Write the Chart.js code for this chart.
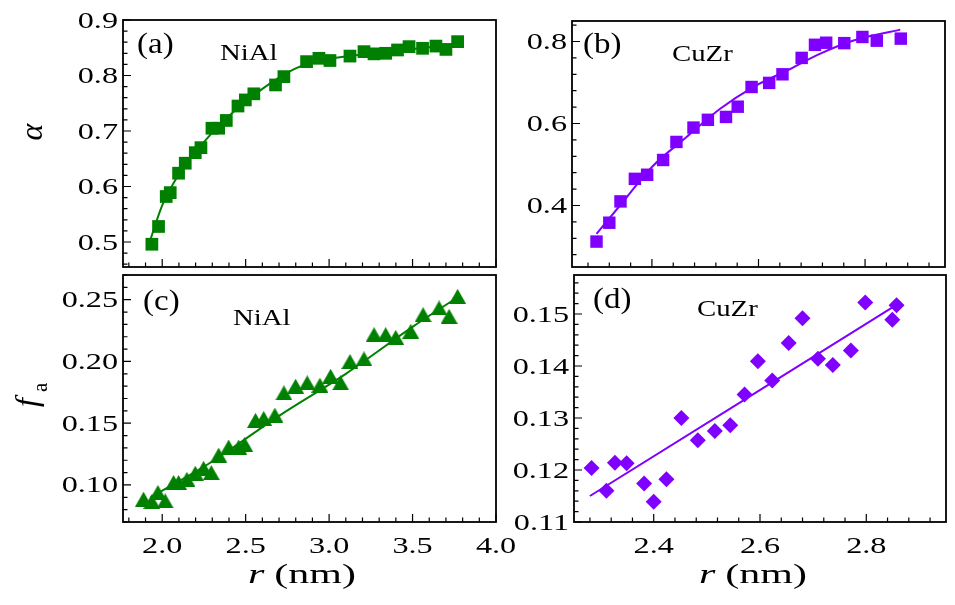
<!DOCTYPE html>
<html><head><meta charset="utf-8">
<script src="https://cdn.jsdelivr.net/npm/chart.js@4.4.1/dist/chart.umd.min.js"></script>
<style>
html,body{margin:0;padding:0;background:#fff;}
#wrap{position:relative;width:955px;height:605px;overflow:hidden;}
#wrap canvas{position:absolute;left:0;top:0;}
</style></head><body>
<div id="wrap">
<canvas id="ca" width="955" height="605"></canvas>
<canvas id="cb" width="955" height="605"></canvas>
<canvas id="cc" width="955" height="605"></canvas>
<canvas id="cd" width="955" height="605"></canvas>
</div>
<script>
// ---------- data ----------
// (a) NiAl, alpha
const rAlphaNiAl = [1.938,1.978,2.024,2.048,2.098,2.138,2.198,2.232,2.298,2.338,2.384,2.454,2.498,2.549,2.679,2.729,2.865,2.939,3.005,3.125,3.209,3.269,3.339,3.410,3.479,3.560,3.640,3.700,3.770];
const alphaNiAl  = [0.496,0.528,0.582,0.589,0.624,0.642,0.661,0.670,0.705,0.705,0.719,0.745,0.756,0.767,0.783,0.798,0.825,0.831,0.827,0.835,0.843,0.839,0.840,0.846,0.852,0.849,0.853,0.847,0.861];
const rAlphaNiAlFit = [1.93,2.0,2.1,2.2,2.3,2.4,2.5,2.6,2.7,2.8,2.9,3.0,3.2,3.4,3.6,3.77];
const alphaNiAlFit  = [0.505,0.566,0.622,0.662,0.697,0.727,0.753,0.776,0.796,0.813,0.824,0.830,0.838,0.845,0.851,0.857];

// (b) CuZr, alpha
const rAlphaCuZr = [2.296,2.320,2.341,2.368,2.391,2.421,2.446,2.478,2.505,2.539,2.561,2.587,2.620,2.645,2.681,2.706,2.727,2.761,2.795,2.822,2.867];
const alphaCuZr  = [0.312,0.358,0.410,0.465,0.475,0.511,0.555,0.590,0.609,0.616,0.641,0.689,0.699,0.720,0.760,0.792,0.797,0.796,0.811,0.802,0.807];
const rAlphaCuZrFit = [2.296,2.34,2.40,2.465,2.528,2.59,2.653,2.715,2.777,2.866];
const alphaCuZrFit  = [0.331,0.400,0.494,0.567,0.636,0.689,0.729,0.770,0.802,0.829];

// (c) NiAl, f_a
const rFaNiAl = [1.888,1.938,1.974,2.018,2.068,2.098,2.148,2.198,2.248,2.294,2.338,2.398,2.458,2.494,2.559,2.608,2.675,2.729,2.799,2.869,2.945,3.009,3.069,3.125,3.209,3.269,3.339,3.399,3.489,3.563,3.659,3.719,3.770];
const faNiAl  = [0.0885,0.0866,0.0939,0.0871,0.1020,0.1020,0.1046,0.1095,0.1135,0.1100,0.1242,0.1307,0.1307,0.1329,0.1523,0.1539,0.1565,0.1746,0.1800,0.1827,0.1808,0.1880,0.1827,0.2000,0.2021,0.2217,0.2217,0.2195,0.2244,0.2379,0.2433,0.2365,0.2527];
const rFaNiAlFit = [1.93,2.3,2.7,3.1,3.5,3.77];
const faNiAlFit  = [0.090,0.119,0.156,0.190,0.228,0.252];

// (d) CuZr, f_a
const rFaCuZr = [2.283,2.311,2.327,2.349,2.382,2.400,2.424,2.452,2.483,2.515,2.544,2.571,2.596,2.623,2.654,2.680,2.709,2.737,2.771,2.798,2.849,2.857];
const faCuZr  = [0.1204,0.1160,0.1214,0.1213,0.1174,0.1139,0.1182,0.1300,0.1257,0.1275,0.1286,0.1345,0.1409,0.1372,0.1444,0.1492,0.1414,0.1402,0.1430,0.1522,0.1489,0.1517];
const rFaCuZrFit = [2.28,2.856];
const faCuZrFit  = [0.1150,0.1517];

// tick labels
const xTicksNiAl = [2.0,2.5,3.0,3.5,4.0];
const xTicksCuZr = [2.4,2.6,2.8];
const yTicksA = [0.5,0.6,0.7,0.8,0.9];
const yTicksB = [0.4,0.6,0.8];
const yTicksC = [0.10,0.15,0.20,0.25];
const yTicksD = [0.11,0.12,0.13,0.14,0.15];

// ---------- helpers ----------
const GREEN = '#008000', PURPLE = '#7f00ff';
const SERIF = '"Liberation Serif", "Times New Roman", serif';
const W = 955, H = 605;

function stext(ctx, str, x, y, size, stretch, align, italic) {
  ctx.font = (italic ? 'italic ' : '') + size + 'px ' + SERIF;
  const w = ctx.measureText(str).width * stretch;
  const left = align === 'center' ? x - w / 2 : align === 'right' ? x - w : x;
  ctx.save();
  ctx.translate(left, y); ctx.scale(stretch, 1);
  ctx.textAlign = 'left'; ctx.textBaseline = 'alphabetic';
  ctx.fillText(str, 0, 0);
  ctx.restore();
  return w;
}

function triangleImage(color) {
  const c = document.createElement('canvas');
  c.width = 17; c.height = 15;
  const g = c.getContext('2d');
  g.fillStyle = color;
  g.beginPath(); g.moveTo(8.5, 0); g.lineTo(17, 15); g.lineTo(0, 15); g.closePath(); g.fill();
  return c;
}

function toPts(xs, ys) { return xs.map((x, i) => ({ x: x, y: ys[i] })); }

function makePanel(id, p) {
  const decor = {
    id: 'decor',
    afterDatasetsDraw(chart) {
      const ctx = chart.ctx, a = chart.chartArea;
      const xs = chart.scales.x, ys = chart.scales.y;
      ctx.save();
      ctx.strokeStyle = '#000'; ctx.fillStyle = '#000';
      ctx.lineWidth = 1.2;
      const eps = 1e-9;
      // x ticks (inward from bottom)
      ctx.beginPath();
      for (let k = -100; k <= 100; k++) {
        const v = p.xAnchor + k * p.xMinor;
        if (v < p.xMin - eps || v > p.xMax + eps) continue;
        const px = xs.getPixelForValue(v);
        const major = p.xTicks.some(t => Math.abs(t - v) < 1e-6);
        ctx.moveTo(px, a.bottom); ctx.lineTo(px, a.bottom - (major ? 8 : 4.5));
      }
      for (let k = -200; k <= 200; k++) {
        const v = p.yAnchor + k * p.yMinor;
        if (v < p.yMin - eps || v > p.yMax + eps) continue;
        const py = ys.getPixelForValue(v);
        const major = p.yTicks.some(t => Math.abs(t - v) < 1e-6);
        ctx.moveTo(a.left, py); ctx.lineTo(a.left + (major ? 8 : 4.5), py);
      }
      ctx.stroke();
      // frame
      ctx.lineWidth = 1.8;
      ctx.strokeRect(a.left, a.top, a.right - a.left, a.bottom - a.top);
      // tick labels
      p.yTicks.forEach(v => {
        stext(ctx, v.toFixed(p.yDec), a.left - 5, ys.getPixelForValue(v) + 7.5, 23, 1.4, 'right');
      });
      if (p.xLabels) {
        p.xTicks.forEach(v => {
          stext(ctx, v.toFixed(1), xs.getPixelForValue(v), a.bottom + 31, 23, 1.4, 'center');
        });
        // axis title  r (nm)
        ctx.font = 'italic 28px ' + SERIF;
        const st = 1.5;
        const w1 = ctx.measureText('r').width * st;
        ctx.font = '28px ' + SERIF;
        const gap = 10;
        const w2 = ctx.measureText('(nm)').width * st;
        const cx = p.titleX, left = cx - (w1 + gap + w2) / 2;
        stext(ctx, 'r', left, 583, 28, st, 'left', true);
        stext(ctx, '(nm)', left + w1 + gap, 583, 28, st, 'left', false);
      }
      // panel annotations
      stext(ctx, p.tag, a.left + p.tagDx, a.top + p.tagDy, 30, 1.1, 'left');
      stext(ctx, p.name, a.left + p.nameDx, a.top + p.nameDy, 24, 1.2, 'left');
      // y-axis title
      if (p.yTitle === 'alpha') {
        ctx.save(); ctx.translate(42, 132); ctx.rotate(-Math.PI / 2);
        ctx.font = 'italic 32px ' + SERIF; ctx.textAlign = 'center'; ctx.textBaseline = 'alphabetic';
        ctx.fillText('α', 0, 0); ctx.restore();
      } else if (p.yTitle === 'fa') {
        ctx.save(); ctx.translate(37, 407); ctx.rotate(-Math.PI / 2);
        ctx.font = 'italic 32px ' + SERIF; ctx.textAlign = 'left'; ctx.textBaseline = 'alphabetic';
        ctx.fillText('f', 0, 0);
        ctx.font = '21px ' + SERIF;
        ctx.fillText('a', 15, 10);
        ctx.restore();
      }
      ctx.restore();
    }
  };

  new Chart(document.getElementById(id), {
    type: 'scatter',
    data: {
      datasets: [
        {
          data: toPts(p.x, p.y),
          pointStyle: p.marker,
          pointRadius: p.radius,
          pointHoverRadius: p.radius,
          backgroundColor: p.color,
          borderColor: p.color,
          borderWidth: 0,
          clip: false
        },
        {
          data: toPts(p.fx, p.fy),
          showLine: true,
          pointRadius: 0,
          borderColor: p.color,
          borderWidth: 2,
          cubicInterpolationMode: 'monotone',
          fill: false
        }
      ]
    },
    options: {
      responsive: false,
      animation: false,
      devicePixelRatio: 1,
      events: [],
      layout: { padding: { left: p.left, right: W - p.right, top: p.top, bottom: H - p.bottom } },
      plugins: { legend: { display: false }, tooltip: { enabled: false } },
      scales: {
        x: {
          type: 'linear', display: false, min: p.xMin, max: p.xMax,
          afterBuildTicks: s => { s.ticks = p.xTicks.map(v => ({ value: v })); }
        },
        y: {
          type: 'linear', display: false, min: p.yMin, max: p.yMax,
          afterBuildTicks: s => { s.ticks = p.yTicks.map(v => ({ value: v })); }
        }
      }
    },
    plugins: [decor]
  });
}

makePanel('ca', {
  x: rAlphaNiAl, y: alphaNiAl, fx: rAlphaNiAlFit, fy: alphaNiAlFit,
  color: GREEN, marker: 'rect', radius: 9,
  left: 123, right: 496, top: 20, bottom: 267,
  xMin: 1.765, xMax: 4.0, yMin: 0.455, yMax: 0.9,
  xTicks: xTicksNiAl, yTicks: yTicksA, xAnchor: 2.0, xMinor: 0.1, yAnchor: 0.5, yMinor: 0.02, yDec: 1,
  xLabels: false, yTitle: 'alpha',
  tag: '(a)', tagDx: 14, tagDy: 33, name: 'NiAl', nameDx: 97, nameDy: 40
});
makePanel('cb', {
  x: rAlphaCuZr, y: alphaCuZr, fx: rAlphaCuZrFit, fy: alphaCuZrFit,
  color: PURPLE, marker: 'rect', radius: 8.8,
  left: 572, right: 945, top: 21, bottom: 267,
  xMin: 2.25, xMax: 2.95, yMin: 0.25, yMax: 0.85,
  xTicks: xTicksCuZr, yTicks: yTicksB, xAnchor: 2.4, xMinor: 0.04, yAnchor: 0.4, yMinor: 0.04, yDec: 1,
  xLabels: false, yTitle: null,
  tag: '(b)', tagDx: 11, tagDy: 32, name: 'CuZr', nameDx: 100, nameDy: 40
});
makePanel('cc', {
  x: rFaNiAl, y: faNiAl, fx: rFaNiAlFit, fy: faNiAlFit,
  color: GREEN, marker: triangleImage(GREEN), radius: 9,
  left: 123, right: 496, top: 275, bottom: 522,
  xMin: 1.765, xMax: 4.0, yMin: 0.07, yMax: 0.27,
  xTicks: xTicksNiAl, yTicks: yTicksC, xAnchor: 2.0, xMinor: 0.1, yAnchor: 0.1, yMinor: 0.01, yDec: 2,
  xLabels: true, titleX: 302, yTitle: 'fa',
  tag: '(c)', tagDx: 20, tagDy: 35, name: 'NiAl', nameDx: 110, nameDy: 50
});
makePanel('cd', {
  x: rFaCuZr, y: faCuZr, fx: rFaCuZrFit, fy: faCuZrFit,
  color: PURPLE, marker: 'rectRot', radius: 8,
  left: 574, right: 946, top: 275, bottom: 522,
  xMin: 2.25, xMax: 2.95, yMin: 0.11, yMax: 0.1575,
  xTicks: xTicksCuZr, yTicks: yTicksD, xAnchor: 2.4, xMinor: 0.04, yAnchor: 0.11, yMinor: 0.002, yDec: 2,
  xLabels: true, titleX: 753, yTitle: null,
  tag: '(d)', tagDx: 19, tagDy: 33, name: 'CuZr', nameDx: 123, nameDy: 41
});
</script>
</body></html>
